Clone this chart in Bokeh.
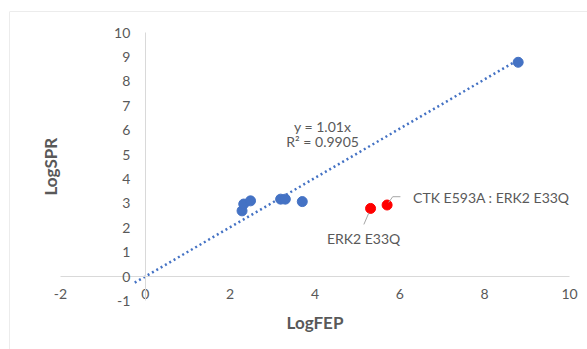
import math
from bokeh.plotting import figure
from bokeh.models import Range1d, LinearAxis, FixedTicker, Label, Span
from bokeh.embed import file_html
from bokeh.resources import INLINE

# ---------------- data ----------------
log_fep_main = [2.28, 2.32, 2.48, 3.19, 3.30, 3.70, 8.79]
log_spr_main = [2.69, 2.97, 3.10, 3.17, 3.17, 3.07, 8.78]
log_fep_mut = [5.31, 5.70]
log_spr_mut = [2.79, 2.93]
mut_labels = ["ERK2 E33Q", "CTK E593A : ERK2 E33Q"]
trend_slope = 1.01
trend_r2 = 0.9905
trend_x = [-0.25, 8.79]
x_ticks = [-2, 0, 2, 4, 6, 8, 10]
y_ticks = [-1, 0, 1, 2, 3, 4, 5, 6, 7, 8, 9, 10]

# ---------------- layout ----------------
X_MIN, X_MAX = -2, 10
Y_MIN, Y_MAX = -1, 10
W, H = 587, 349
PLOT_L, PLOT_R, PLOT_T, PLOT_B = 60, 569, 32, 300.4
CHART_L, CHART_T = 9, 11
sx = (PLOT_R - PLOT_L) / (X_MAX - X_MIN)
sy = (PLOT_B - PLOT_T) / (Y_MAX - Y_MIN)
xr = Range1d(X_MIN - (PLOT_L - CHART_L) / sx, X_MAX + (W - PLOT_R) / sx)
yr = Range1d(Y_MIN - (H - PLOT_B) / sy, Y_MAX + (PLOT_T - CHART_T) / sy)

BLUE = "#4472C4"
RED = "#FF0000"
TXT = "#595959"
AX = "#D9D9D9"
FONT = "Lato"

p = figure(width=W, height=H, x_range=xr, y_range=yr,
           x_axis_type=None, y_axis_type=None,
           toolbar_location=None, output_backend="svg", title=None,
           min_border_left=CHART_L, min_border_top=CHART_T,
           min_border_right=0, min_border_bottom=0,
           outline_line_color=None,
           background_fill_color="white", border_fill_color="white")

# chart-area border (left and top visible)
p.add_layout(Span(location=xr.start, dimension="height", line_color=AX, line_width=1))
p.add_layout(Span(location=yr.end, dimension="width", line_color=AX, line_width=1))

# vertical axis crossing at x = 0
yaxis = LinearAxis(fixed_location=0, bounds=(Y_MIN, Y_MAX),
                   ticker=FixedTicker(ticks=y_ticks))
yaxis.axis_line_color = AX
yaxis.major_tick_line_color = None
yaxis.minor_tick_line_color = None
yaxis.major_tick_out = 0
yaxis.major_tick_in = 0
yaxis.major_label_standoff = 15
yaxis.major_label_text_font = FONT
yaxis.major_label_text_font_size = "14px"
yaxis.major_label_text_color = TXT
yaxis.major_label_overrides = {t: str(t) for t in y_ticks}
p.add_layout(yaxis, "left")

# horizontal axis line at y = 0
xline = LinearAxis(fixed_location=0, bounds=(X_MIN, X_MAX), ticker=FixedTicker(ticks=[]))
xline.axis_line_color = AX
xline.major_tick_line_color = None
xline.minor_tick_line_color = None
xline.major_label_text_font_size = "0px"
p.add_layout(xline, "below")

# horizontal tick labels at the bottom of the plot area
xlab = LinearAxis(fixed_location=Y_MIN, bounds=(X_MIN, X_MAX),
                  ticker=FixedTicker(ticks=x_ticks))
xlab.axis_line_color = None
xlab.major_tick_line_color = None
xlab.minor_tick_line_color = None
xlab.major_tick_out = 0
xlab.major_tick_in = 0
xlab.major_label_standoff = -12
xlab.major_label_text_font = FONT
xlab.major_label_text_font_size = "14px"
xlab.major_label_text_color = TXT
xlab.major_label_overrides = {t: str(t) for t in x_ticks}
p.add_layout(xlab, "below")

# trendline
p.line(trend_x, [trend_slope * v for v in trend_x], line_color=BLUE,
       line_width=2.5, line_dash="2 3")

# points
p.scatter(log_fep_main, log_spr_main, size=10, fill_color=BLUE, line_color=BLUE)
p.scatter(log_fep_mut, log_spr_mut, size=10, fill_color=RED, line_color=RED)

# leader lines (pixel offsets from the labelled point)
def off(x, y, dx, dy):
    return x + dx / sx, y - dy / sy

lx, ly = zip(off(log_fep_mut[0], log_spr_mut[0], -6.7, 16),
             off(log_fep_mut[0], log_spr_mut[0], -1.7, 4.4))
p.line(list(lx), list(ly), line_color="#A6A6A6", line_width=1)
lx, ly = zip(off(log_fep_mut[1], log_spr_mut[1], 1.6, -2.6),
             off(log_fep_mut[1], log_spr_mut[1], 5.6, -8.3),
             off(log_fep_mut[1], log_spr_mut[1], 13.3, -8.3))
p.line(list(lx), list(ly), line_color="#A6A6A6", line_width=1)

# data labels
p.add_layout(Label(x=log_fep_mut[0], y=log_spr_mut[0], x_offset=-7, y_offset=-30,
                   text=mut_labels[0], text_align="center", text_baseline="middle",
                   text_font=FONT, text_font_size="14px", text_color=TXT))
p.add_layout(Label(x=log_fep_mut[1], y=log_spr_mut[1], x_offset=26, y_offset=7.6,
                   text=mut_labels[1], text_align="left", text_baseline="middle",
                   text_font=FONT, text_font_size="14px", text_color=TXT))

# trendline equation
p.add_layout(Label(x=4.18, y=6.14, text=f"y = {trend_slope}x", text_align="center",
                   text_baseline="middle", text_font=FONT, text_font_size="14px",
                   text_color=TXT))
p.add_layout(Label(x=4.18, y=5.53, text=f"R² = {trend_r2}", text_align="center",
                   text_baseline="middle", text_font=FONT, text_font_size="14px",
                   text_color=TXT))

# axis titles
p.add_layout(Label(x=(X_MIN + X_MAX) / 2, y=Y_MIN, y_offset=-22, text="LogFEP",
                   text_align="center", text_baseline="middle", text_font=FONT,
                   text_font_size="17px", text_font_style="bold", text_color=TXT))
p.add_layout(Label(x=X_MIN, y=(Y_MIN + Y_MAX) / 2, x_offset=-10, text="LogSPR",
                   angle=math.pi / 2, text_align="center", text_baseline="middle",
                   text_font=FONT, text_font_size="17px", text_font_style="bold",
                   text_color=TXT))

open("out.html", "w").write(file_html(p, INLINE))
